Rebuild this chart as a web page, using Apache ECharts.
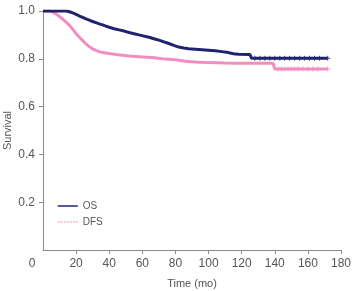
<!DOCTYPE html>
<html>
<head>
<meta charset="utf-8">
<script src="https://cdn.jsdelivr.net/npm/echarts@6/dist/echarts.min.js"></script>
<style>
html, body { margin: 0; padding: 0; background: #fff; }
#chart { width: 354px; height: 291px; }
</style>
</head>
<body>
<div id="chart"></div>
<script>
// Kaplan-Meier estimates (months, survival)
var osTime = [0, 14, 16, 18, 20, 22, 24, 26, 28, 30, 32, 34, 36, 38, 40, 43, 46, 49, 52, 55, 58, 61, 64, 67, 70, 73, 76, 79, 82, 85, 88, 92, 96, 100, 104, 108, 112, 115, 118, 125, 126, 172];
var osSurv = [1.0, 1.0, 0.997, 0.992, 0.986, 0.979, 0.973, 0.967, 0.962, 0.956, 0.951, 0.946, 0.942, 0.937, 0.932, 0.926, 0.921, 0.916, 0.91, 0.905, 0.9, 0.895, 0.89, 0.884, 0.878, 0.871, 0.864, 0.856, 0.849, 0.845, 0.842, 0.84, 0.838, 0.836, 0.834, 0.83, 0.826, 0.821, 0.819, 0.818, 0.802, 0.802];

var dfsTime = [0, 4, 6, 8, 10, 12, 14, 16, 18, 20, 22, 24, 26, 28, 30, 32, 34, 36, 40, 44, 48, 52, 56, 60, 66, 72, 80, 86, 94, 100, 110, 118, 139, 140, 172];
var dfsSurv = [1.0, 1.0, 0.995, 0.987, 0.977, 0.965, 0.953, 0.94, 0.923, 0.905, 0.89, 0.876, 0.862, 0.85, 0.841, 0.835, 0.83, 0.826, 0.822, 0.818, 0.815, 0.812, 0.81, 0.808, 0.805, 0.8, 0.796, 0.79, 0.786, 0.784, 0.782, 0.781, 0.781, 0.757, 0.757];

// censored observations in the tail
var osCensor = [128, 131, 134, 137, 140, 143, 146, 149, 152, 155, 158, 161, 164, 167, 172];
var dfsCensor = [142, 144, 146, 148, 150, 152, 154, 157, 160, 163, 166, 172];

var xTicks = [0, 20, 40, 60, 80, 100, 120, 140, 160, 180];

function pairs(t, s) {
    var out = [];
    for (var i = 0; i < t.length; i++) out.push([t[i], s[i]]);
    return out;
}

function survAt(t, s, x) {
    var v = s[0];
    for (var i = 0; i < t.length; i++) {
        if (t[i] <= x) v = s[i];
    }
    return v;
}

function censorPts(c, t, s) {
    var out = [];
    for (var i = 0; i < c.length; i++) out.push([c[i], survAt(t, s, c[i])]);
    return out;
}

var osColor = '#1f2270';
var dfsColor = '#f38dc0';
var plus = 'path://M2,0h1v2h2v1h-2v2h-1v-2h-2v-1h2z';
var axisGray = '#8a8a8a';
var textGray = '#555';

var chart = echarts.init(document.getElementById('chart'));
chart.setOption({
    animation: false,
    grid: { left: 43, right: 13, top: 11, bottom: 41, containLabel: false, outerBoundsMode: 'none' },
    legend: {
        orient: 'vertical',
        left: 57,
        top: 201,
        padding: 0,
        itemWidth: 20,
        itemHeight: 8,
        itemGap: 6,
        textStyle: { fontSize: 10, color: textGray, fontFamily: 'Liberation Sans' },
        data: [
            { name: 'OS', itemStyle: { opacity: 0 }, lineStyle: { width: 1.5, color: osColor, type: 'solid' } },
            { name: 'DFS', itemStyle: { opacity: 0 }, lineStyle: { width: 1, color: dfsColor, type: [2, 1] } }
        ]
    },
    xAxis: {
        type: 'value',
        min: 0,
        max: 180,
        interval: 20,
        name: 'Time (mo)',
        nameLocation: 'middle',
        nameGap: 28,
        nameMoveOverlap: false,
        nameTextStyle: { fontSize: 11, color: textGray, fontFamily: 'Liberation Sans' },
        axisLine: { lineStyle: { color: axisGray } },
        axisTick: { length: 4, lineStyle: { color: axisGray } },
        splitLine: { show: false },
        axisLabel: {
            fontSize: 12,
            color: textGray,
            fontFamily: 'Liberation Sans',
            margin: 8,
            showMinLabel: false,
            formatter: function (v) {
                return xTicks.indexOf(v) >= 0 ? String(v) : '';
            }
        }
    },
    yAxis: {
        type: 'value',
        min: 0,
        max: 1,
        interval: 0.2,
        name: 'Survival',
        nameLocation: 'middle',
        nameGap: 30,
        nameMoveOverlap: false,
        nameTextStyle: { fontSize: 11, color: textGray, fontFamily: 'Liberation Sans' },
        axisLine: { show: true, lineStyle: { color: axisGray } },
        axisTick: { show: true, length: 4, lineStyle: { color: axisGray } },
        splitLine: { show: false },
        axisLabel: {
            fontSize: 12,
            color: textGray,
            fontFamily: 'Liberation Sans',
            margin: 8,
            showMinLabel: false,
            formatter: function (v) { return v.toFixed(1); }
        }
    },
    series: [
        {
            name: 'OS',
            type: 'line',
            symbol: 'none',
            data: pairs(osTime, osSurv),
            lineStyle: { color: osColor, width: 3 },
            itemStyle: { color: osColor },
            z: 3
        },
        {
            name: 'DFS',
            type: 'line',
            symbol: 'none',
            data: pairs(dfsTime, dfsSurv),
            lineStyle: { color: dfsColor, width: 3 },
            itemStyle: { color: dfsColor },
            z: 2
        },
        {
            name: 'OS censor',
            type: 'scatter',
            symbol: plus,
            symbolSize: 5,
            data: censorPts(osCensor, osTime, osSurv),
            itemStyle: { color: osColor },
            z: 3
        },
        {
            name: 'DFS censor',
            type: 'scatter',
            symbol: plus,
            symbolSize: 5,
            data: censorPts(dfsCensor, dfsTime, dfsSurv),
            itemStyle: { color: dfsColor },
            z: 2
        }
    ]
});

// shared origin label, set down and to the left of the corner
var origin = chart.convertToPixel({ gridIndex: 0 }, [0, 0]);
chart.setOption({
    graphic: [{
        type: 'text',
        x: origin[0] - 11,
        y: origin[1] + 14,
        style: {
            text: '0',
            fontSize: 12,
            fontFamily: 'Liberation Sans',
            fill: textGray,
            align: 'center',
            verticalAlign: 'middle'
        }
    }]
});
</script>
</body>
</html>
